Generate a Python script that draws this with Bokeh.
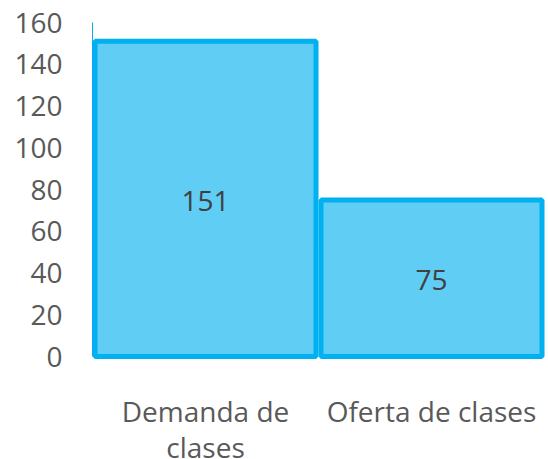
from bokeh.plotting import figure
from bokeh.models import ColumnDataSource, Range1d, FixedTicker
from bokeh.core.properties import value
from bokeh.embed import file_html
from bokeh.resources import INLINE

categories = ["Demanda de\nclases", "Oferta de clases"]
values = [151, 75]
y_ticks = [0, 20, 40, 60, 80, 100, 120, 140, 160]

PX_PER_UNIT = 334 / 160          # vertical scale of the frame
Y_MIN = 160 - 437 / PX_PER_UNIT  # frame runs down to the bottom edge

xs = [0.5 + i for i in range(len(categories))]
src = ColumnDataSource(dict(
    x=xs,
    top=values,
    mid=[v / 2 for v in values],
    lab=[str(v) for v in values],
))

# category label lines (centres below the zero line)
cx, cy, ct = [], [], []
for x, cat in zip(xs, categories):
    for k, line in enumerate(cat.split("\n")):
        cx.append(x)
        cy.append((-54 - 36 * k) / PX_PER_UNIT)
        ct.append(line)
cat_src = ColumnDataSource(dict(x=cx, y=cy, t=ct))

p = figure(width=548, height=459, output_backend="svg", toolbar_location=None,
           x_range=Range1d(0, 2.0044), y_range=Range1d(Y_MIN, 160),
           min_border_left=92, min_border_right=3, min_border_top=22, min_border_bottom=0)
p.outline_line_color = None
p.grid.visible = False
p.background_fill_color = "white"
p.border_fill_color = "white"

p.vbar(x="x", top="top", bottom=0, width=0.978, source=src,
       fill_color="#5FCDF4", line_color="#00B0F0", line_width=5)

p.text(x="x", y="mid", text="lab", source=src, text_align="center", text_baseline="middle",
       y_offset=1.7, text_font=value("Open Sans"), text_font_size="28px", text_color="#404040")

p.text(x="x", y="y", text="t", source=cat_src, text_align="center", text_baseline="middle",
       text_font=value("Open Sans"), text_font_size="28px", text_color="#595959")

p.yaxis.ticker = FixedTicker(ticks=y_ticks)
p.yaxis.bounds = (0, 160)
p.yaxis.axis_line_color = "#00B0F0"
p.yaxis.axis_line_width = 1
p.yaxis.major_tick_out = 0
p.yaxis.major_tick_in = 0
p.yaxis.major_tick_line_color = None
p.yaxis.minor_tick_line_color = None
p.yaxis.major_label_standoff = 30
p.yaxis.major_label_text_font = "Open Sans"
p.yaxis.major_label_text_font_size = "28px"
p.yaxis.major_label_text_color = "#595959"

p.xaxis.visible = False

open("out.html", "w").write(file_html(p, INLINE))
